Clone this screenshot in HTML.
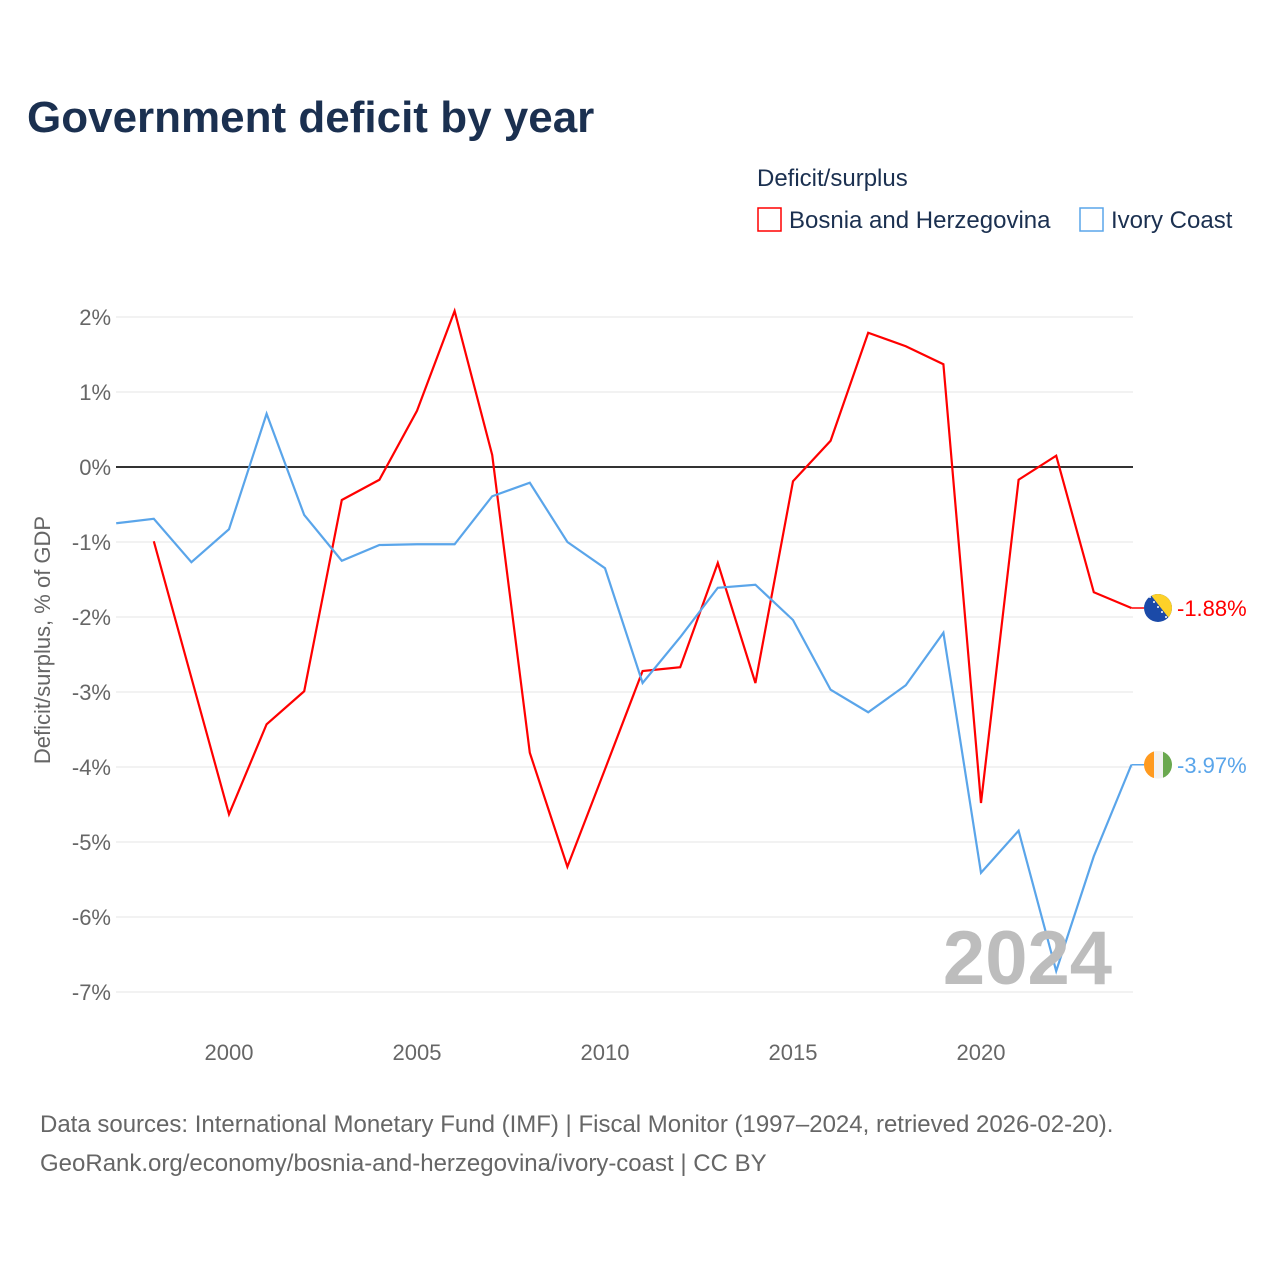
<!DOCTYPE html>
<html><head><meta charset="utf-8"><style>
body{margin:0;background:#fff;width:1280px;height:1280px;overflow:hidden;font-family:"Liberation Sans",sans-serif}
</style></head><body>
<svg id="chart" width="1280" height="1280" xmlns="http://www.w3.org/2000/svg">
<text x="27" y="132" font-size="44" font-weight="bold" fill="#1b3050">Government deficit by year</text>
<text x="757" y="186" font-size="24" fill="#1b3050">Deficit/surplus</text>
<g><rect x="758" y="208" width="23" height="23" fill="none" stroke="#ff0000" stroke-width="1.5"/><text x="789" y="228" font-size="24" fill="#1b3050">Bosnia and Herzegovina</text></g>
<g><rect x="1080" y="208" width="23" height="23" fill="none" stroke="#5aa5ea" stroke-width="1.5"/><text x="1111" y="228" font-size="24" fill="#1b3050">Ivory Coast</text></g>
<text transform="translate(50,640) rotate(-90)" text-anchor="middle" font-size="22" fill="#666">Deficit/surplus, % of GDP</text>
<g id="grid"></g><g id="lines"></g>
<text x="1112" y="984" text-anchor="end" font-size="76" font-weight="bold" fill="#bdbdbd">2024</text>
<text x="40" y="1132" font-size="24" fill="#666">Data sources: International Monetary Fund (IMF) | Fiscal Monitor (1997–2024, retrieved 2026-02-20).</text>
<text x="40" y="1171" font-size="24" fill="#666">GeoRank.org/economy/bosnia-and-herzegovina/ivory-coast | CC BY</text>
</svg>
<script>
const yTicks=[2,1,0,-1,-2,-3,-4,-5,-6,-7];
const xTicks=[2000,2005,2010,2015,2020];
const bihYears=[1998,1999,2000,2001,2002,2003,2004,2005,2006,2007,2008,2009,2010,2011,2012,2013,2014,2015,2016,2017,2018,2019,2020,2021,2022,2023,2024];
const bihValues=[-0.99,-2.81,-4.63,-3.43,-2.99,-0.44,-0.17,0.75,2.08,0.16,-3.81,-5.33,-4.03,-2.72,-2.67,-1.28,-2.88,-0.19,0.35,1.79,1.61,1.37,-4.48,-0.17,0.15,-1.67,-1.88];
const civYears=[1997,1998,1999,2000,2001,2002,2003,2004,2005,2006,2007,2008,2009,2010,2011,2012,2013,2014,2015,2016,2017,2018,2019,2020,2021,2022,2023,2024];
const civValues=[-0.75,-0.69,-1.27,-0.83,0.71,-0.64,-1.25,-1.04,-1.03,-1.03,-0.39,-0.21,-1.0,-1.35,-2.88,-2.27,-1.61,-1.57,-2.04,-2.97,-3.27,-2.91,-2.21,-5.41,-4.85,-6.72,-5.19,-3.97];
const NS="http://www.w3.org/2000/svg";
const X=y=>229+(y-2000)*37.6;
const Y=v=>467-v*75;
function mk(t,a,p){const e=document.createElementNS(NS,t);for(const k in a)e.setAttribute(k,a[k]);p.appendChild(e);return e;}
const grid=document.getElementById('grid'),lines=document.getElementById('lines');
yTicks.forEach(v=>{
 const l=mk('line',{x1:116,x2:1133,y1:Y(v),y2:Y(v),stroke:v===0?'#333':'#e6e6e6','stroke-width':v===0?2:1},grid);
 
 
 const t=mk('text',{x:111,y:Y(v)+8,'text-anchor':'end','font-size':22,fill:'#666'},grid);
 t.textContent=v+'%';
 
 
});
xTicks.forEach(y=>{
 const t=mk('text',{x:X(y),y:1060,'text-anchor':'middle','font-size':22,fill:'#666'},grid);
 t.textContent=y;
 
 
});
function series(years,vals,color,name){
 const p=mk('polyline',{points:years.map((y,i)=>X(y)+','+Y(vals[i])).join(' '),fill:'none',stroke:color,'stroke-width':2.2,'stroke-linejoin':'miter'},lines);
 
 
 const ly=years[years.length-1],lv=vals[vals.length-1];
 mk('line',{x1:X(ly),x2:1144,y1:Y(lv),y2:Y(lv),stroke:color,'stroke-width':1.5},lines);
 const t=mk('text',{x:1177,y:Y(lv)+8,'font-size':22,fill:color},lines);
 t.textContent=lv.toFixed(2)+'%';
 
 
 return Y(lv);
}
const yb=series(bihYears,bihValues,'#ff0000','bosnia');
const yc=series(civYears,civValues,'#5aa5ea','ivory-coast');
// flags
const cx=1158;
let g=mk('g',{},lines);


mk('clipPath',{id:'cb'},g).appendChild(Object.assign(document.createElementNS(NS,'circle'),{}));
document.querySelector('#cb circle').setAttribute('cx',cx);document.querySelector('#cb circle').setAttribute('cy',yb);document.querySelector('#cb circle').setAttribute('r',14);
const gb=mk('g',{'clip-path':'url(#cb)'},g);
mk('rect',{x:cx-14,y:yb-14,width:28,height:28,fill:'#1b4aa8'},gb);
mk('polygon',{points:`${cx-8},${yb-14} ${cx+14},${yb-14} ${cx+14},${yb+14}`,fill:'#fdd128'},gb);
for(let i=0;i<6;i++)mk('circle',{cx:cx-8+i*4,cy:yb-11+i*5,r:1,fill:'#fff'},gb);
g=mk('g',{},lines);


const cc=mk('clipPath',{id:'cc'},g);mk('circle',{cx:cx,cy:yc,r:14},cc);
const gc=mk('g',{'clip-path':'url(#cc)'},g);
mk('rect',{x:cx-14,y:yc-14,width:10,height:28,fill:'#ff9a1f'},gc);
mk('rect',{x:cx-4,y:yc-14,width:9,height:28,fill:'#f2f2f2'},gc);
mk('rect',{x:cx+5,y:yc-14,width:10,height:28,fill:'#6aa84f'},gc);
</script>
</body></html>
